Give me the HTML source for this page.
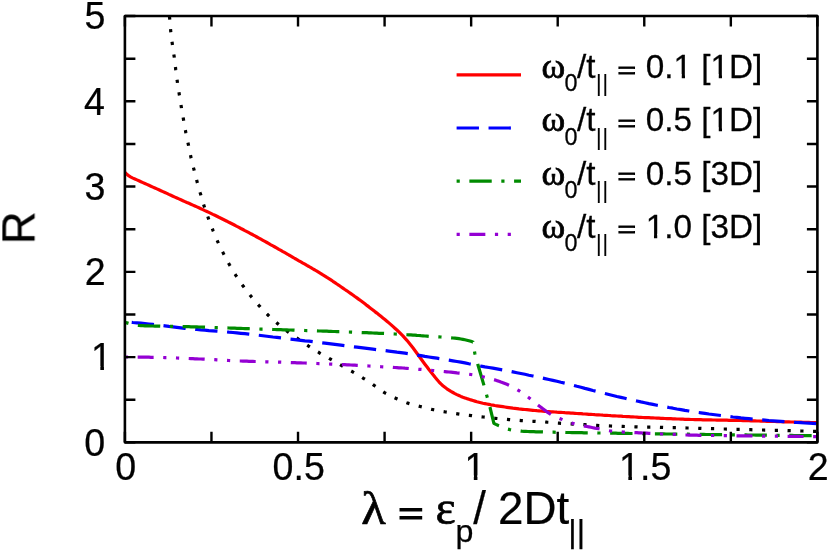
<!DOCTYPE html>
<html><head><meta charset="utf-8"><title>R vs lambda</title>
<style>html,body{margin:0;padding:0;background:#fff;}svg{display:block;}</style></head>
<body><svg width="830" height="552" viewBox="0 0 830 552">
<rect width="830" height="552" fill="#fff" stroke="none"/>
<defs><clipPath id="c"><rect x="124.9" y="16.05" width="692.5" height="426.3"/></clipPath></defs>
<g clip-path="url(#c)" fill="none" stroke-linejoin="round">
<path d="M166.5,-10.0 L166.8,-8.0 L167.0,-6.0 L167.3,-4.0 L167.5,-2.1 L167.8,-0.1 L168.0,1.9 L168.2,3.9 L168.4,5.9 L168.6,7.9 L168.9,9.9 L169.1,11.9 L169.2,13.8 L169.4,15.8 L169.6,17.8 L169.8,19.8 L169.9,21.8 L170.1,23.8 L170.2,25.8 L170.4,27.8 L170.6,29.8 L170.8,31.8 L171.0,33.8 L171.2,35.7 L171.5,37.7 L171.8,39.7 L172.0,41.7 L172.3,43.7 L172.6,45.7 L172.9,47.6 L173.1,49.6 L173.4,51.6 L173.7,53.6 L174.0,55.6 L174.3,57.5 L174.5,59.5 L174.8,61.5 L175.0,63.5 L175.2,65.5 L175.5,67.5 L175.7,69.5 L176.0,71.4 L176.2,73.4 L176.5,75.4 L176.7,77.4 L177.0,79.4 L177.3,81.4 L177.5,83.3 L177.9,85.3 L178.2,87.3 L178.5,89.3 L178.8,91.2 L179.1,93.2 L179.4,95.2 L179.8,97.2 L180.1,99.1 L180.4,101.1 L180.7,103.1 L181.0,105.1 L181.3,107.0 L181.6,109.0 L182.0,111.0 L182.3,112.9 L182.7,114.9 L183.0,116.9 L183.4,118.9 L183.7,120.8 L184.1,122.8 L184.4,124.8 L184.7,126.7 L185.1,128.7 L185.5,130.7 L185.8,132.6 L186.2,134.6 L186.6,136.6 L187.0,138.5 L187.5,140.5 L187.9,142.4 L188.3,144.4 L188.7,146.3 L189.1,148.3 L189.5,150.3 L189.9,152.2 L190.3,154.2 L190.7,156.1 L191.1,158.1 L191.6,160.0 L192.1,162.0 L192.5,163.9 L193.0,165.9 L193.5,167.8 L194.0,169.7 L194.5,171.7 L195.0,173.6 L195.5,175.6 L196.0,177.5 L196.5,179.4 L197.0,181.4 L197.5,183.3 L198.0,185.2 L198.6,187.2 L199.1,189.1 L199.7,191.0 L200.2,192.9 L200.8,194.9 L201.3,196.8 L201.9,198.7 L202.4,200.6 L203.0,202.5 L203.6,204.4 L204.2,206.4 L204.8,208.3 L205.5,210.1 L206.1,212.0 L206.8,213.9 L207.5,215.8 L208.2,217.7 L208.8,219.6 L209.5,221.4 L210.2,223.3 L210.9,225.2 L211.6,227.0 L212.4,228.9 L213.1,230.8 L213.9,232.6 L214.6,234.5 L215.4,236.3 L216.2,238.2 L217.0,240.0 L217.8,241.8 L218.6,243.6 L219.5,245.4 L220.3,247.2 L221.2,249.0 L222.1,250.8 L223.0,252.6 L223.9,254.4 L224.8,256.2 L225.8,258.0 L226.7,259.7 L227.7,261.5 L228.6,263.2 L229.6,265.0 L230.6,266.7 L231.6,268.4 L232.6,270.2 L233.7,271.9 L234.7,273.6 L235.8,275.3 L236.9,276.9 L238.0,278.6 L239.1,280.3 L240.2,281.9 L241.3,283.6 L242.5,285.2 L243.7,286.8 L244.8,288.4 L246.1,290.0 L247.3,291.6 L248.5,293.2 L249.8,294.8 L251.0,296.3 L252.3,297.9 L253.6,299.4 L254.9,300.9 L256.2,302.4 L257.5,303.9 L258.8,305.4 L260.2,306.9 L261.5,308.4 L262.9,309.8 L264.3,311.3 L265.7,312.7 L267.1,314.1 L268.5,315.5 L270.0,316.9 L271.5,318.2 L272.9,319.6 L274.4,320.9 L276.0,322.2 L277.5,323.5 L279.0,324.8 L280.5,326.1 L282.1,327.3 L283.7,328.6 L285.2,329.8 L286.8,331.0 L288.4,332.2 L290.1,333.4 L291.7,334.5 L293.4,335.6 L295.0,336.8 L296.7,337.9 L298.3,339.0 L300.0,340.2 L301.6,341.3 L303.3,342.4 L304.9,343.6 L306.6,344.7 L308.2,345.8 L309.9,346.9 L311.6,348.0 L313.3,349.1 L314.9,350.1 L316.6,351.2 L318.4,352.2 L320.1,353.3 L321.8,354.3 L323.5,355.3 L325.3,356.3 L327.0,357.3 L328.8,358.2 L330.5,359.2 L332.2,360.2 L334.0,361.2 L335.7,362.2 L337.4,363.2 L339.2,364.2 L340.9,365.2 L342.6,366.2 L344.4,367.2 L346.1,368.1 L347.9,369.1 L349.6,370.1 L351.4,371.1 L353.1,372.1 L354.8,373.1 L356.5,374.1 L358.3,375.1 L360.0,376.2 L361.7,377.2 L363.4,378.3 L365.1,379.3 L366.7,380.4 L368.4,381.5 L370.1,382.6 L371.7,383.7 L373.4,384.9 L375.0,386.0 L376.7,387.2 L378.3,388.4 L379.9,389.6 L381.5,390.7 L383.2,391.8 L384.9,392.9 L386.6,393.8 L388.4,394.8 L390.2,395.7 L392.0,396.6 L393.8,397.4 L395.6,398.2 L397.4,399.0 L399.3,399.8 L401.1,400.6 L403.0,401.4 L404.8,402.1 L406.7,402.8 L408.6,403.4 L410.5,404.0 L412.5,404.5 L414.4,405.0 L416.3,405.5 L418.3,406.0 L420.2,406.5 L422.2,407.0 L424.1,407.5 L426.0,408.0 L428.0,408.5 L429.9,408.9 L431.9,409.4 L433.8,409.8 L435.8,410.2 L437.7,410.6 L439.7,410.9 L441.7,411.3 L443.6,411.7 L445.6,412.0 L447.6,412.3 L449.6,412.7 L451.5,413.0 L453.5,413.3 L455.5,413.6 L457.5,413.9 L459.4,414.2 L461.4,414.5 L463.4,414.7 L465.4,414.9 L467.4,415.2 L469.4,415.4 L471.4,415.6 L473.3,415.9 L475.3,416.1 L477.3,416.3 L479.3,416.5 L481.3,416.8 L483.3,417.0 L485.3,417.2 L487.3,417.4 L489.2,417.6 L491.2,417.8 L493.2,418.1 L495.2,418.3 L497.2,418.5 L499.2,418.7 L501.2,418.9 L503.2,419.1 L505.2,419.2 L507.2,419.4 L509.1,419.6 L511.1,419.8 L513.1,420.0 L515.1,420.1 L517.1,420.3 L519.1,420.4 L521.1,420.6 L523.1,420.7 L525.1,420.8 L527.1,421.0 L529.1,421.1 L531.1,421.2 L533.1,421.3 L535.1,421.4 L537.1,421.6 L539.1,421.7 L541.1,421.8 L543.1,421.9 L545.1,422.0 L547.1,422.2 L549.1,422.3 L551.0,422.5 L553.0,422.6 L555.0,422.8 L557.0,423.0 L559.0,423.1 L561.0,423.3 L563.0,423.4 L565.0,423.5 L567.0,423.7 L569.0,423.8 L571.0,423.9 L573.0,424.1 L575.0,424.2 L577.0,424.3 L579.0,424.4 L581.0,424.5 L583.0,424.6 L585.0,424.7 L587.0,424.9 L589.0,425.0 L591.0,425.1 L593.0,425.2 L595.0,425.3 L597.0,425.4 L599.0,425.5 L601.0,425.6 L602.9,425.7 L604.9,425.8 L606.9,425.8 L608.9,425.9 L610.9,426.0 L612.9,426.1 L614.9,426.1 L616.9,426.2 L618.9,426.3 L620.9,426.3 L622.9,426.4 L624.9,426.5 L626.9,426.5 L628.9,426.6 L630.9,426.6 L632.9,426.7 L634.9,426.8 L636.9,426.8 L638.9,426.9 L640.9,426.9 L642.9,427.0 L644.9,427.0 L646.9,427.1 L648.9,427.1 L650.9,427.1 L652.9,427.2 L654.9,427.2 L656.9,427.3 L658.9,427.3 L660.9,427.4 L662.9,427.4 L664.9,427.5 L666.9,427.5 L668.9,427.6 L670.9,427.6 L672.9,427.6 L674.9,427.7 L676.9,427.7 L678.9,427.8 L680.9,427.8 L682.9,427.9 L684.9,427.9 L686.9,428.0 L688.9,428.0 L690.9,428.1 L692.9,428.1 L694.9,428.2 L696.9,428.2 L698.9,428.3 L700.9,428.3 L702.9,428.4 L704.9,428.5 L706.9,428.5 L708.9,428.6 L710.9,428.6 L712.9,428.7 L714.9,428.7 L716.9,428.8 L718.9,428.9 L720.9,428.9 L722.9,429.0 L724.9,429.0 L726.9,429.1 L728.9,429.1 L730.9,429.2 L732.9,429.2 L734.9,429.3 L736.9,429.3 L738.9,429.4 L740.9,429.4 L742.9,429.5 L744.9,429.6 L746.9,429.6 L748.9,429.7 L750.9,429.7 L752.9,429.8 L754.9,429.8 L756.9,429.9 L758.9,429.9 L760.9,430.0 L762.9,430.0 L764.9,430.1 L766.9,430.1 L768.9,430.2 L770.9,430.2 L772.9,430.3 L774.9,430.3 L776.9,430.4 L778.9,430.4 L780.9,430.5 L782.9,430.5 L784.9,430.6 L786.9,430.6 L788.9,430.7 L790.9,430.7 L792.9,430.8 L794.9,430.8 L796.9,430.9 L798.9,430.9 L800.9,431.0 L802.9,431.0 L804.9,431.1 L806.9,431.1 L808.9,431.2 L810.9,431.2 L812.9,431.3 L814.9,431.3 L816.9,431.4 L817.6,431.4" stroke="#000" stroke-width="3.2" stroke-dasharray="3.19 9.58" stroke-dashoffset="-1.0"/>
<path d="M124.9,172.3 L126.9,174.3 L128.9,175.9 L130.9,177.1 L132.9,178.1 L134.9,179.0 L136.9,179.9 L138.9,180.8 L140.9,181.7 L142.9,182.6 L144.9,183.5 L146.9,184.4 L148.9,185.3 L150.9,186.2 L152.9,187.1 L154.9,188.0 L156.9,188.9 L158.9,189.8 L160.9,190.7 L162.9,191.6 L164.9,192.5 L166.9,193.4 L168.9,194.4 L170.9,195.3 L172.9,196.2 L174.9,197.1 L176.9,198.0 L178.9,198.9 L180.9,199.8 L182.9,200.7 L184.9,201.6 L186.9,202.5 L188.9,203.3 L190.9,204.2 L192.9,205.1 L194.9,206.0 L196.9,206.9 L198.9,207.8 L200.9,208.7 L202.9,209.6 L204.9,210.6 L206.9,211.5 L208.9,212.4 L210.9,213.4 L212.9,214.4 L214.9,215.3 L216.9,216.3 L218.9,217.3 L220.9,218.2 L222.9,219.2 L224.9,220.2 L226.9,221.2 L228.9,222.3 L230.9,223.3 L232.9,224.3 L234.9,225.3 L236.9,226.4 L238.9,227.4 L240.9,228.5 L242.9,229.5 L244.9,230.6 L246.9,231.6 L248.9,232.7 L250.9,233.8 L252.9,234.8 L254.9,235.9 L256.9,237.0 L258.9,238.1 L260.9,239.2 L262.9,240.3 L264.9,241.4 L266.9,242.5 L268.9,243.6 L270.9,244.8 L272.9,245.9 L274.9,247.0 L276.9,248.1 L278.9,249.3 L280.9,250.4 L282.9,251.6 L284.9,252.7 L286.9,253.8 L288.9,255.0 L290.9,256.1 L292.9,257.3 L294.9,258.5 L296.9,259.6 L298.9,260.8 L300.9,261.9 L302.9,263.1 L304.9,264.2 L306.9,265.4 L308.9,266.5 L310.9,267.7 L312.9,268.9 L314.9,270.0 L316.9,271.2 L318.9,272.4 L320.9,273.6 L322.9,274.9 L324.9,276.1 L326.9,277.4 L328.9,278.6 L330.9,279.9 L332.9,281.3 L334.9,282.6 L336.9,284.0 L338.9,285.3 L340.9,286.7 L342.9,288.1 L344.9,289.5 L346.9,290.8 L348.9,292.2 L350.9,293.6 L352.9,295.0 L354.9,296.5 L356.9,297.9 L358.9,299.4 L360.9,300.8 L362.9,302.3 L364.9,303.8 L366.9,305.4 L368.9,306.9 L370.9,308.5 L372.9,310.0 L374.9,311.6 L376.9,313.1 L378.9,314.7 L380.9,316.3 L382.9,317.9 L384.9,319.5 L386.9,321.2 L388.9,322.9 L390.9,324.6 L392.9,326.4 L394.9,328.2 L396.9,330.0 L398.9,331.9 L400.9,333.9 L402.9,335.9 L404.9,338.1 L406.9,340.3 L408.9,342.7 L410.9,345.2 L412.9,347.8 L414.9,350.5 L416.9,353.2 L418.9,356.0 L420.9,358.8 L422.9,361.5 L424.9,364.2 L426.9,366.8 L428.9,369.5 L430.9,372.0 L432.9,374.5 L434.9,377.1 L436.9,379.5 L438.9,381.8 L440.9,383.9 L442.9,385.7 L444.9,387.3 L446.9,388.8 L448.9,390.1 L450.9,391.4 L452.9,392.5 L454.9,393.6 L456.9,394.6 L458.9,395.5 L460.9,396.4 L462.9,397.2 L464.9,397.9 L466.9,398.6 L468.9,399.2 L470.9,399.9 L472.9,400.5 L474.9,401.1 L476.9,401.7 L478.9,402.2 L480.9,402.7 L482.9,403.2 L484.9,403.6 L486.9,404.0 L488.9,404.4 L490.9,404.8 L492.9,405.1 L494.9,405.5 L496.9,405.8 L498.9,406.1 L500.9,406.4 L502.9,406.7 L504.9,407.0 L506.9,407.3 L508.9,407.6 L510.9,407.9 L512.9,408.2 L514.9,408.4 L516.9,408.6 L518.9,408.9 L520.9,409.1 L522.9,409.3 L524.9,409.5 L526.9,409.7 L528.9,409.9 L530.9,410.1 L532.9,410.3 L534.9,410.5 L536.9,410.7 L538.9,410.8 L540.9,411.0 L542.9,411.2 L544.9,411.3 L546.9,411.5 L548.9,411.6 L550.9,411.8 L552.9,411.9 L554.9,412.0 L556.9,412.2 L558.9,412.3 L560.9,412.4 L562.9,412.5 L564.9,412.7 L566.9,412.8 L568.9,412.9 L570.9,413.1 L572.9,413.2 L574.9,413.3 L576.9,413.5 L578.9,413.6 L580.9,413.7 L582.9,413.9 L584.9,414.0 L586.9,414.1 L588.9,414.3 L590.9,414.4 L592.9,414.5 L594.9,414.7 L596.9,414.8 L598.9,414.9 L600.9,415.0 L602.9,415.2 L604.9,415.3 L606.9,415.4 L608.9,415.5 L610.9,415.7 L612.9,415.8 L614.9,415.9 L616.9,416.0 L618.9,416.1 L620.9,416.2 L622.9,416.4 L624.9,416.5 L626.9,416.6 L628.9,416.7 L630.9,416.8 L632.9,416.9 L634.9,417.0 L636.9,417.1 L638.9,417.3 L640.9,417.4 L642.9,417.5 L644.9,417.6 L646.9,417.7 L648.9,417.7 L650.9,417.8 L652.9,417.9 L654.9,418.0 L656.9,418.1 L658.9,418.2 L660.9,418.3 L662.9,418.4 L664.9,418.5 L666.9,418.6 L668.9,418.6 L670.9,418.7 L672.9,418.8 L674.9,418.9 L676.9,419.0 L678.9,419.0 L680.9,419.1 L682.9,419.2 L684.9,419.3 L686.9,419.3 L688.9,419.4 L690.9,419.5 L692.9,419.5 L694.9,419.6 L696.9,419.6 L698.9,419.7 L700.9,419.7 L702.9,419.8 L704.9,419.8 L706.9,419.9 L708.9,419.9 L710.9,419.9 L712.9,420.0 L714.9,420.0 L716.9,420.1 L718.9,420.1 L720.9,420.1 L722.9,420.2 L724.9,420.2 L726.9,420.2 L728.9,420.3 L730.9,420.3 L732.9,420.4 L734.9,420.4 L736.9,420.4 L738.9,420.5 L740.9,420.5 L742.9,420.6 L744.9,420.6 L746.9,420.7 L748.9,420.7 L750.9,420.8 L752.9,420.8 L754.9,420.9 L756.9,421.0 L758.9,421.0 L760.9,421.1 L762.9,421.2 L764.9,421.2 L766.9,421.3 L768.9,421.3 L770.9,421.4 L772.9,421.5 L774.9,421.5 L776.9,421.6 L778.9,421.7 L780.9,421.7 L782.9,421.8 L784.9,421.8 L786.9,421.9 L788.9,421.9 L790.9,422.0 L792.9,422.0 L794.9,422.1 L796.9,422.1 L798.9,422.2 L800.9,422.2 L802.9,422.3 L804.9,422.3 L806.9,422.4 L808.9,422.4 L810.9,422.5 L812.9,422.5 L814.9,422.5 L816.9,422.6 L817.6,422.6" stroke="#f00" stroke-width="3.2"/>
<path d="M124.9,321.8 L128.9,322.1 L132.9,322.5 L136.9,322.8 L140.9,323.2 L144.9,323.6 L148.9,324.0 L152.9,324.4 L156.9,324.8 L160.9,325.3 L164.9,325.8 L168.9,326.4 L172.9,326.9 L176.9,327.4 L180.9,327.9 L184.9,328.4 L188.9,328.8 L192.9,329.2 L196.9,329.5 L200.9,329.9 L204.9,330.2 L208.9,330.6 L212.9,330.9 L216.9,331.2 L220.9,331.5 L224.9,331.8 L228.9,332.2 L232.9,332.5 L236.9,332.9 L240.9,333.3 L244.9,333.7 L248.9,334.1 L252.9,334.6 L256.9,335.0 L260.9,335.5 L264.9,336.0 L268.9,336.5 L272.9,337.0 L276.9,337.4 L280.9,337.9 L284.9,338.4 L288.9,338.9 L292.9,339.3 L296.9,339.8 L300.9,340.3 L304.9,340.8 L308.9,341.2 L312.9,341.7 L316.9,342.2 L320.9,342.7 L324.9,343.2 L328.9,343.7 L332.9,344.2 L336.9,344.7 L340.9,345.2 L344.9,345.7 L348.9,346.2 L352.9,346.7 L356.9,347.2 L360.9,347.7 L364.9,348.2 L368.9,348.7 L372.9,349.2 L376.9,349.7 L380.9,350.1 L384.9,350.6 L388.9,351.1 L392.9,351.6 L396.9,352.2 L400.9,352.7 L404.9,353.2 L408.9,353.8 L412.9,354.5 L416.9,355.1 L420.9,355.7 L424.9,356.4 L428.9,357.0 L432.9,357.6 L436.9,358.2 L440.9,358.8 L444.9,359.5 L448.9,360.1 L452.9,360.8 L456.9,361.5 L460.9,362.2 L464.9,362.9 L468.9,363.8 L472.9,364.6 L476.9,365.4 L480.9,366.2 L484.9,366.9 L488.9,367.5 L492.9,368.2 L496.9,368.9 L500.9,369.6 L504.9,370.3 L508.9,371.1 L512.9,371.9 L516.9,372.7 L520.9,373.5 L524.9,374.3 L528.9,375.2 L532.9,376.0 L536.9,376.9 L540.9,377.7 L544.9,378.6 L548.9,379.5 L552.9,380.4 L556.9,381.3 L560.9,382.3 L564.9,383.2 L568.9,384.2 L572.9,385.2 L576.9,386.3 L580.9,387.3 L584.9,388.4 L588.9,389.4 L592.9,390.5 L596.9,391.5 L600.9,392.5 L604.9,393.5 L608.9,394.5 L612.9,395.5 L616.9,396.5 L620.9,397.4 L624.9,398.3 L628.9,399.3 L632.9,400.2 L636.9,401.0 L640.9,401.9 L644.9,402.7 L648.9,403.6 L652.9,404.4 L656.9,405.2 L660.9,406.0 L664.9,406.7 L668.9,407.5 L672.9,408.2 L676.9,409.0 L680.9,409.7 L684.9,410.4 L688.9,411.0 L692.9,411.7 L696.9,412.3 L700.9,412.8 L704.9,413.4 L708.9,414.0 L712.9,414.5 L716.9,415.0 L720.9,415.5 L724.9,416.0 L728.9,416.5 L732.9,417.0 L736.9,417.4 L740.9,417.9 L744.9,418.3 L748.9,418.7 L752.9,419.1 L756.9,419.5 L760.9,419.8 L764.9,420.1 L768.9,420.5 L772.9,420.8 L776.9,421.1 L780.9,421.4 L784.9,421.7 L788.9,421.9 L792.9,422.2 L796.9,422.5 L800.9,422.7 L804.9,423.0 L808.9,423.2 L812.9,423.4 L816.9,423.7 L817.6,423.7" stroke="#00f" stroke-width="3.2" stroke-dasharray="22.36 9.58" stroke-dashoffset="25.1"/>
<path d="M124.9,322.3 L126.9,322.9 L128.9,323.5 L130.9,324.0 L132.9,324.5 L134.9,325.0 L136.9,325.3 L138.9,325.5 L140.9,325.6 L142.9,325.7 L144.9,325.8 L146.9,325.9 L148.9,325.9 L150.9,326.0 L152.9,326.0 L154.9,326.1 L156.9,326.1 L158.9,326.1 L160.9,326.2 L162.9,326.2 L164.9,326.2 L166.9,326.2 L168.9,326.3 L170.9,326.3 L172.9,326.4 L174.9,326.4 L176.9,326.4 L178.9,326.5 L180.9,326.5 L182.9,326.6 L184.9,326.6 L186.9,326.7 L188.9,326.7 L190.9,326.8 L192.9,326.8 L194.9,326.9 L196.9,326.9 L198.9,327.0 L200.9,327.0 L202.9,327.1 L204.9,327.1 L206.9,327.2 L208.9,327.3 L210.9,327.3 L212.9,327.4 L214.9,327.5 L216.9,327.6 L218.9,327.6 L220.9,327.7 L222.9,327.8 L224.9,327.9 L226.9,327.9 L228.9,328.0 L230.9,328.1 L232.9,328.1 L234.9,328.2 L236.9,328.3 L238.9,328.4 L240.9,328.4 L242.9,328.5 L244.9,328.6 L246.9,328.6 L248.9,328.7 L250.9,328.8 L252.9,328.8 L254.9,328.9 L256.9,329.0 L258.9,329.0 L260.9,329.1 L262.9,329.1 L264.9,329.2 L266.9,329.3 L268.9,329.3 L270.9,329.4 L272.9,329.5 L274.9,329.5 L276.9,329.6 L278.9,329.7 L280.9,329.7 L282.9,329.8 L284.9,329.8 L286.9,329.9 L288.9,330.0 L290.9,330.0 L292.9,330.1 L294.9,330.2 L296.9,330.2 L298.9,330.3 L300.9,330.4 L302.9,330.4 L304.9,330.5 L306.9,330.6 L308.9,330.6 L310.9,330.7 L312.9,330.8 L314.9,330.8 L316.9,330.9 L318.9,331.0 L320.9,331.0 L322.9,331.1 L324.9,331.2 L326.9,331.2 L328.9,331.3 L330.9,331.4 L332.9,331.5 L334.9,331.5 L336.9,331.6 L338.9,331.7 L340.9,331.7 L342.9,331.8 L344.9,331.9 L346.9,332.0 L348.9,332.0 L350.9,332.1 L352.9,332.2 L354.9,332.3 L356.9,332.3 L358.9,332.4 L360.9,332.5 L362.9,332.6 L364.9,332.7 L366.9,332.7 L368.9,332.8 L370.9,332.9 L372.9,333.0 L374.9,333.1 L376.9,333.2 L378.9,333.3 L380.9,333.3 L382.9,333.4 L384.9,333.5 L386.9,333.6 L388.9,333.7 L390.9,333.8 L392.9,333.9 L394.9,334.0 L396.9,334.1 L398.9,334.2 L400.9,334.3 L402.9,334.4 L404.9,334.5 L406.9,334.7 L408.9,334.8 L410.9,334.9 L412.9,335.1 L414.9,335.2 L416.9,335.4 L418.9,335.5 L420.9,335.7 L422.9,335.8 L424.9,336.0 L426.9,336.1 L428.9,336.3 L430.9,336.4 L432.9,336.5 L434.9,336.6 L436.9,336.8 L438.9,336.9 L440.9,337.0 L442.9,337.2 L444.9,337.3 L446.9,337.4 L448.9,337.6 L450.9,337.8 L452.9,338.0 L454.9,338.2 L456.9,338.4 L458.9,338.7 L460.9,339.0 L462.9,339.4 L464.9,339.8 L466.9,340.2 L468.9,340.7 L470.9,341.3 L472.9,342.0 L473.0,342.0 L474.8,353.3 L478.0,365.0 L484.0,385.5 L487.0,396.4 L490.0,407.3 L493.9,423.3 L495.9,424.4 L497.9,425.3 L499.9,426.0 L501.9,426.8 L503.9,427.6 L505.9,428.4 L507.9,429.1 L509.9,429.6 L511.9,430.0 L513.9,430.3 L515.9,430.6 L517.9,430.8 L519.9,431.0 L521.9,431.2 L523.9,431.3 L525.9,431.4 L527.9,431.5 L529.9,431.6 L531.9,431.6 L533.9,431.7 L535.9,431.8 L537.9,431.8 L539.9,431.9 L541.9,431.9 L543.9,432.0 L545.9,432.0 L547.9,432.1 L549.9,432.1 L551.9,432.2 L553.9,432.2 L555.9,432.3 L557.9,432.3 L559.9,432.4 L561.9,432.4 L563.9,432.4 L565.9,432.5 L567.9,432.5 L569.9,432.5 L571.9,432.6 L573.9,432.6 L575.9,432.6 L577.9,432.7 L579.9,432.7 L581.9,432.7 L583.9,432.8 L585.9,432.8 L587.9,432.8 L589.9,432.8 L591.9,432.9 L593.9,432.9 L595.9,432.9 L597.9,433.0 L599.9,433.0 L601.9,433.0 L603.9,433.1 L605.9,433.1 L607.9,433.1 L609.9,433.2 L611.9,433.2 L613.9,433.2 L615.9,433.2 L617.9,433.3 L619.9,433.3 L621.9,433.3 L623.9,433.4 L625.9,433.4 L627.9,433.4 L629.9,433.5 L631.9,433.5 L633.9,433.5 L635.9,433.5 L637.9,433.6 L639.9,433.6 L641.9,433.6 L643.9,433.7 L645.9,433.7 L647.9,433.7 L649.9,433.7 L651.9,433.8 L653.9,433.8 L655.9,433.8 L657.9,433.9 L659.9,433.9 L661.9,433.9 L663.9,433.9 L665.9,434.0 L667.9,434.0 L669.9,434.0 L671.9,434.0 L673.9,434.1 L675.9,434.1 L677.9,434.1 L679.9,434.1 L681.9,434.2 L683.9,434.2 L685.9,434.2 L687.9,434.2 L689.9,434.3 L691.9,434.3 L693.9,434.3 L695.9,434.3 L697.9,434.4 L699.9,434.4 L701.9,434.4 L703.9,434.4 L705.9,434.5 L707.9,434.5 L709.9,434.5 L711.9,434.5 L713.9,434.6 L715.9,434.6 L717.9,434.6 L719.9,434.6 L721.9,434.7 L723.9,434.7 L725.9,434.7 L727.9,434.7 L729.9,434.8 L731.9,434.8 L733.9,434.8 L735.9,434.8 L737.9,434.9 L739.9,434.9 L741.9,434.9 L743.9,434.9 L745.9,434.9 L747.9,435.0 L749.9,435.0 L751.9,435.0 L753.9,435.0 L755.9,435.1 L757.9,435.1 L759.9,435.1 L761.9,435.1 L763.9,435.1 L765.9,435.2 L767.9,435.2 L769.9,435.2 L771.9,435.2 L773.9,435.3 L775.9,435.3 L777.9,435.3 L779.9,435.3 L781.9,435.3 L783.9,435.4 L785.9,435.4 L787.9,435.4 L789.9,435.4 L791.9,435.4 L793.9,435.5 L795.9,435.5 L797.9,435.5 L799.9,435.5 L801.9,435.5 L803.9,435.6 L805.9,435.6 L807.9,435.6 L809.9,435.6 L811.9,435.6 L813.9,435.7 L815.9,435.7 L817.6,435.7" stroke="#008b00" stroke-width="3.2" stroke-dasharray="3.2 9.6 22.4 9.6" stroke-dashoffset="-0.55"/>
<path d="M124.9,357.0 L126.9,357.0 L128.9,357.0 L130.9,357.0 L132.9,357.0 L134.9,357.1 L136.9,357.1 L138.9,357.1 L140.9,357.1 L142.9,357.1 L144.9,357.2 L146.9,357.2 L148.9,357.2 L150.9,357.3 L152.9,357.3 L154.9,357.3 L156.9,357.4 L158.9,357.4 L160.9,357.5 L162.9,357.5 L164.9,357.6 L166.9,357.6 L168.9,357.7 L170.9,357.8 L172.9,357.9 L174.9,357.9 L176.9,358.0 L178.9,358.1 L180.9,358.2 L182.9,358.3 L184.9,358.3 L186.9,358.4 L188.9,358.5 L190.9,358.6 L192.9,358.7 L194.9,358.8 L196.9,358.9 L198.9,359.0 L200.9,359.0 L202.9,359.1 L204.9,359.2 L206.9,359.3 L208.9,359.4 L210.9,359.5 L212.9,359.6 L214.9,359.7 L216.9,359.9 L218.9,360.0 L220.9,360.1 L222.9,360.2 L224.9,360.3 L226.9,360.4 L228.9,360.5 L230.9,360.6 L232.9,360.7 L234.9,360.8 L236.9,360.9 L238.9,361.0 L240.9,361.0 L242.9,361.1 L244.9,361.2 L246.9,361.2 L248.9,361.3 L250.9,361.4 L252.9,361.4 L254.9,361.5 L256.9,361.5 L258.9,361.6 L260.9,361.7 L262.9,361.7 L264.9,361.8 L266.9,361.8 L268.9,361.9 L270.9,361.9 L272.9,362.0 L274.9,362.0 L276.9,362.1 L278.9,362.2 L280.9,362.2 L282.9,362.3 L284.9,362.4 L286.9,362.4 L288.9,362.5 L290.9,362.6 L292.9,362.6 L294.9,362.7 L296.9,362.8 L298.9,362.8 L300.9,362.9 L302.9,363.0 L304.9,363.0 L306.9,363.1 L308.9,363.2 L310.9,363.2 L312.9,363.3 L314.9,363.4 L316.9,363.5 L318.9,363.6 L320.9,363.6 L322.9,363.7 L324.9,363.8 L326.9,363.9 L328.9,364.0 L330.9,364.1 L332.9,364.2 L334.9,364.2 L336.9,364.3 L338.9,364.4 L340.9,364.5 L342.9,364.6 L344.9,364.7 L346.9,364.8 L348.9,364.9 L350.9,365.0 L352.9,365.1 L354.9,365.2 L356.9,365.3 L358.9,365.4 L360.9,365.5 L362.9,365.7 L364.9,365.8 L366.9,365.9 L368.9,366.0 L370.9,366.1 L372.9,366.2 L374.9,366.3 L376.9,366.4 L378.9,366.5 L380.9,366.7 L382.9,366.8 L384.9,366.9 L386.9,367.0 L388.9,367.1 L390.9,367.2 L392.9,367.4 L394.9,367.5 L396.9,367.6 L398.9,367.8 L400.9,367.9 L402.9,368.0 L404.9,368.2 L406.9,368.3 L408.9,368.5 L410.9,368.6 L412.9,368.8 L414.9,368.9 L416.9,369.1 L418.9,369.3 L420.9,369.4 L422.9,369.6 L424.9,369.8 L426.9,369.9 L428.9,370.1 L430.9,370.3 L432.9,370.5 L434.9,370.7 L436.9,370.9 L438.9,371.0 L440.9,371.2 L442.9,371.4 L444.9,371.6 L446.9,371.8 L448.9,372.0 L450.9,372.2 L452.9,372.4 L454.9,372.6 L456.9,372.9 L458.9,373.1 L460.9,373.3 L462.9,373.5 L464.9,373.7 L466.9,374.0 L468.9,374.2 L470.9,374.5 L472.9,374.8 L474.9,375.2 L476.9,375.5 L478.9,375.9 L480.9,376.4 L482.9,376.8 L484.9,377.3 L486.9,377.7 L488.9,378.2 L490.9,378.8 L492.9,379.3 L494.9,379.9 L496.9,380.6 L498.9,381.2 L500.9,382.0 L502.9,382.7 L504.9,383.5 L506.9,384.3 L508.9,385.2 L510.9,386.2 L512.9,387.2 L514.9,388.3 L516.9,389.5 L518.9,390.7 L520.9,392.0 L522.9,393.4 L524.9,394.8 L526.9,396.2 L528.9,397.7 L530.9,399.2 L532.9,400.8 L534.9,402.5 L536.9,404.1 L538.9,405.7 L540.9,407.2 L542.9,408.8 L544.9,410.3 L546.9,411.8 L548.9,413.1 L550.9,414.4 L552.9,415.4 L554.9,416.4 L556.9,417.3 L558.9,418.2 L560.9,419.0 L562.9,419.8 L564.9,420.6 L566.9,421.4 L568.9,422.1 L570.9,422.8 L572.9,423.4 L574.9,423.9 L576.9,424.4 L578.9,424.8 L580.9,425.3 L582.9,425.7 L584.9,426.1 L586.9,426.5 L588.9,426.9 L590.9,427.3 L592.9,427.7 L594.9,428.1 L596.9,428.4 L598.9,428.8 L600.9,429.2 L602.9,429.6 L604.9,430.0 L606.9,430.4 L608.9,430.7 L610.9,431.0 L612.9,431.2 L614.9,431.4 L616.9,431.5 L618.9,431.7 L620.9,431.8 L622.9,432.0 L624.9,432.1 L626.9,432.2 L628.9,432.3 L630.9,432.4 L632.9,432.5 L634.9,432.6 L636.9,432.7 L638.9,432.8 L640.9,432.9 L642.9,433.0 L644.9,433.1 L646.9,433.2 L648.9,433.3 L650.9,433.4 L652.9,433.5 L654.9,433.6 L656.9,433.8 L658.9,433.9 L660.9,434.0 L662.9,434.0 L664.9,434.1 L666.9,434.2 L668.9,434.2 L670.9,434.3 L672.9,434.3 L674.9,434.4 L676.9,434.5 L678.9,434.6 L680.9,434.7 L682.9,434.9 L684.9,435.0 L686.9,435.0 L688.9,435.1 L690.9,435.1 L692.9,435.2 L694.9,435.2 L696.9,435.2 L698.9,435.3 L700.9,435.3 L702.9,435.4 L704.9,435.4 L706.9,435.4 L708.9,435.4 L710.9,435.5 L712.9,435.5 L714.9,435.5 L716.9,435.5 L718.9,435.6 L720.9,435.6 L722.9,435.6 L724.9,435.6 L726.9,435.7 L728.9,435.7 L730.9,435.7 L732.9,435.7 L734.9,435.7 L736.9,435.8 L738.9,435.8 L740.9,435.8 L742.9,435.8 L744.9,435.9 L746.9,435.9 L748.9,435.9 L750.9,435.9 L752.9,436.0 L754.9,436.0 L756.9,436.0 L758.9,436.0 L760.9,436.0 L762.9,436.1 L764.9,436.1 L766.9,436.1 L768.9,436.1 L770.9,436.2 L772.9,436.2 L774.9,436.2 L776.9,436.2 L778.9,436.2 L780.9,436.3 L782.9,436.3 L784.9,436.3 L786.9,436.3 L788.9,436.3 L790.9,436.4 L792.9,436.4 L794.9,436.4 L796.9,436.4 L798.9,436.4 L800.9,436.5 L802.9,436.5 L804.9,436.5 L806.9,436.5 L808.9,436.5 L810.9,436.5 L812.9,436.6 L814.9,436.6 L816.9,436.6 L817.6,436.6" stroke="#9400d3" stroke-width="3.2" stroke-dasharray="3.19 9.58 15.97 9.58 3.19 9.58"/>
</g>
<path d="M124.90,442.35 v-10.5 M124.90,16.05 v10.5 M211.46,442.35 v-10.5 M211.46,16.05 v10.5 M298.02,442.35 v-10.5 M298.02,16.05 v10.5 M384.59,442.35 v-10.5 M384.59,16.05 v10.5 M471.15,442.35 v-10.5 M471.15,16.05 v10.5 M557.71,442.35 v-10.5 M557.71,16.05 v10.5 M644.27,442.35 v-10.5 M644.27,16.05 v10.5 M730.84,442.35 v-10.5 M730.84,16.05 v10.5 M817.40,442.35 v-10.5 M817.40,16.05 v10.5 M124.9,442.35 h10.5 M817.4,442.35 h-10.5 M124.9,399.72 h10.5 M817.4,399.72 h-10.5 M124.9,357.09 h10.5 M817.4,357.09 h-10.5 M124.9,314.46 h10.5 M817.4,314.46 h-10.5 M124.9,271.83 h10.5 M817.4,271.83 h-10.5 M124.9,229.20 h10.5 M817.4,229.20 h-10.5 M124.9,186.57 h10.5 M817.4,186.57 h-10.5 M124.9,143.94 h10.5 M817.4,143.94 h-10.5 M124.9,101.31 h10.5 M817.4,101.31 h-10.5 M124.9,58.68 h10.5 M817.4,58.68 h-10.5 M124.9,16.05 h10.5 M817.4,16.05 h-10.5" stroke="#000" stroke-width="2.4" fill="none"/>
<rect x="124.9" y="16.05" width="692.5" height="426.3" fill="none" stroke="#000" stroke-width="2.6" stroke-linejoin="round"/>
<g fill="none" stroke-width="3.2">
<path d="M456.6,74.8 H521.0" stroke="#f00"/>
<path d="M456.6,128.0 H520.3" stroke="#00f" stroke-dasharray="22.36 9.58"/>
<path d="M456.6,181.2 H521.0" stroke="#008b00" stroke-dasharray="3.19 9.58 22.36 9.58"/>
<path d="M456.6,234.4 H520.3" stroke="#9400d3" stroke-dasharray="3.19 9.58 15.97 9.58 3.19 9.58"/>
</g>
<g font-family="'Liberation Sans', sans-serif" fill="#000" stroke="#000" stroke-width="0.25" opacity="0.999" style="font-kerning:none">
<g transform="translate(84.34,455.71) scale(0.97,1.0)"><text font-size="38.8">0</text></g>
<g transform="translate(91.01,370.44) scale(0.97,1.0)"><text font-size="38.8">1</text><rect x="1.16" y="-4.20" width="8.45" height="6.30" fill="#fff" stroke="none"/><rect x="13.34" y="-4.20" width="8.15" height="6.30" fill="#fff" stroke="none"/></g>
<g transform="translate(84.76,285.38) scale(0.97,1.0)"><text font-size="38.8">2</text></g>
<g transform="translate(84.52,199.93) scale(0.97,1.0)"><text font-size="38.8">3</text></g>
<g transform="translate(83.97,114.66) scale(0.97,1.0)"><text font-size="38.8">4</text></g>
<g transform="translate(84.45,29.21) scale(0.97,1.0)"><text font-size="38.8">5</text></g>
<g transform="translate(115.33,479.50) scale(0.97,1.0)"><text font-size="38.8">0</text></g>
<g transform="translate(272.60,479.50) scale(0.97,1.0)"><text font-size="38.8">0.5</text></g>
<g transform="translate(464.49,479.50) scale(0.97,1.0)"><text font-size="38.8">1</text><rect x="1.16" y="-4.20" width="8.45" height="6.30" fill="#fff" stroke="none"/><rect x="13.34" y="-4.20" width="8.15" height="6.30" fill="#fff" stroke="none"/></g>
<g transform="translate(619.02,479.50) scale(0.97,1.0)"><text font-size="38.8">1.5</text><rect x="1.16" y="-4.20" width="8.45" height="6.30" fill="#fff" stroke="none"/><rect x="13.34" y="-4.20" width="8.15" height="6.30" fill="#fff" stroke="none"/></g>
<g transform="translate(807.68,479.50) scale(0.97,1.0)"><text font-size="38.8">2</text></g>
<g transform="translate(541.60,78.10) scale(1.0,1.0)"><text font-size="36" font-family="'Liberation Serif', serif" stroke="#000" stroke-width="0.75">ω</text></g>
<g transform="translate(564.50,91.40) scale(1.0,1.02)"><text font-size="23.4">0</text></g>
<g transform="translate(577.00,78.10) scale(1.0,1.02)"><text font-size="33.3">/t</text></g>
<g transform="translate(595.80,91.40) scale(1.0,1.02)"><text font-size="23.4" stroke="none">|</text></g>
<g transform="translate(602.30,91.40) scale(1.0,1.02)"><text font-size="23.4" stroke="none">|</text></g>
<g transform="translate(617.45,77.75) scale(0.95,0.683)"><text font-size="33.3" stroke="#000" stroke-width="1.33">=</text></g>
<g transform="translate(645.75,78.10) scale(1.0,1.02)"><text font-size="33.3">0.1 [1D]</text><rect x="28.51" y="-3.79" width="7.49" height="5.89" fill="#fff" stroke="none"/><rect x="39.24" y="-3.79" width="7.23" height="5.89" fill="#fff" stroke="none"/><rect x="65.53" y="-3.79" width="7.49" height="5.89" fill="#fff" stroke="none"/><rect x="76.26" y="-3.79" width="7.23" height="5.89" fill="#fff" stroke="none"/></g>
<g transform="translate(541.60,131.30) scale(1.0,1.0)"><text font-size="36" font-family="'Liberation Serif', serif" stroke="#000" stroke-width="0.75">ω</text></g>
<g transform="translate(564.50,144.60) scale(1.0,1.02)"><text font-size="23.4">0</text></g>
<g transform="translate(577.00,131.30) scale(1.0,1.02)"><text font-size="33.3">/t</text></g>
<g transform="translate(595.80,144.60) scale(1.0,1.02)"><text font-size="23.4" stroke="none">|</text></g>
<g transform="translate(602.30,144.60) scale(1.0,1.02)"><text font-size="23.4" stroke="none">|</text></g>
<g transform="translate(617.45,130.95) scale(0.95,0.683)"><text font-size="33.3" stroke="#000" stroke-width="1.33">=</text></g>
<g transform="translate(645.75,131.30) scale(1.0,1.02)"><text font-size="33.3">0.5 [1D]</text><rect x="65.53" y="-3.79" width="7.49" height="5.89" fill="#fff" stroke="none"/><rect x="76.26" y="-3.79" width="7.23" height="5.89" fill="#fff" stroke="none"/></g>
<g transform="translate(541.60,184.50) scale(1.0,1.0)"><text font-size="36" font-family="'Liberation Serif', serif" stroke="#000" stroke-width="0.75">ω</text></g>
<g transform="translate(564.50,197.80) scale(1.0,1.02)"><text font-size="23.4">0</text></g>
<g transform="translate(577.00,184.50) scale(1.0,1.02)"><text font-size="33.3">/t</text></g>
<g transform="translate(595.80,197.80) scale(1.0,1.02)"><text font-size="23.4" stroke="none">|</text></g>
<g transform="translate(602.30,197.80) scale(1.0,1.02)"><text font-size="23.4" stroke="none">|</text></g>
<g transform="translate(617.45,184.15) scale(0.95,0.683)"><text font-size="33.3" stroke="#000" stroke-width="1.33">=</text></g>
<g transform="translate(645.75,184.50) scale(1.0,1.02)"><text font-size="33.3">0.5 [3D]</text></g>
<g transform="translate(541.60,237.70) scale(1.0,1.0)"><text font-size="36" font-family="'Liberation Serif', serif" stroke="#000" stroke-width="0.75">ω</text></g>
<g transform="translate(564.50,251.00) scale(1.0,1.02)"><text font-size="23.4">0</text></g>
<g transform="translate(577.00,237.70) scale(1.0,1.02)"><text font-size="33.3">/t</text></g>
<g transform="translate(595.80,251.00) scale(1.0,1.02)"><text font-size="23.4" stroke="none">|</text></g>
<g transform="translate(602.30,251.00) scale(1.0,1.02)"><text font-size="23.4" stroke="none">|</text></g>
<g transform="translate(617.45,237.35) scale(0.95,0.683)"><text font-size="33.3" stroke="#000" stroke-width="1.33">=</text></g>
<g transform="translate(645.75,237.70) scale(1.0,1.02)"><text font-size="33.3">1.0 [3D]</text><rect x="0.74" y="-3.79" width="7.49" height="5.89" fill="#fff" stroke="none"/><rect x="11.47" y="-3.79" width="7.23" height="5.89" fill="#fff" stroke="none"/></g>
<g transform="translate(361.20,524.00) scale(1.09,1.0)"><text font-size="46.5" font-family="'Liberation Serif', serif" stroke="#000" stroke-width="0.7">λ</text></g>
<g transform="translate(398.26,523.53) scale(0.95,0.683)"><text font-size="45.5" stroke="#000" stroke-width="1.82">=</text></g>
<g transform="translate(435.60,524.00) scale(1.0,1.0)"><text font-size="48" font-family="'Liberation Serif', serif" stroke="#000" stroke-width="0.7">ε</text></g>
<g transform="translate(455.60,542.20) scale(1.0,1.0)"><text font-size="32.2">p</text></g>
<g transform="translate(473.30,524.00) scale(1.0,1.0)"><text font-size="45.5">/</text></g>
<g transform="translate(498.11,524.00) scale(1.005,1.0)"><text font-size="45.5">2Dt</text></g>
<g transform="translate(568.30,542.20) scale(1.0,1.0)"><text font-size="32.2">||</text></g>
<text transform="translate(34.4,244.2) rotate(-90)" font-size="45.5">R</text>
</g>
</svg></body></html>
